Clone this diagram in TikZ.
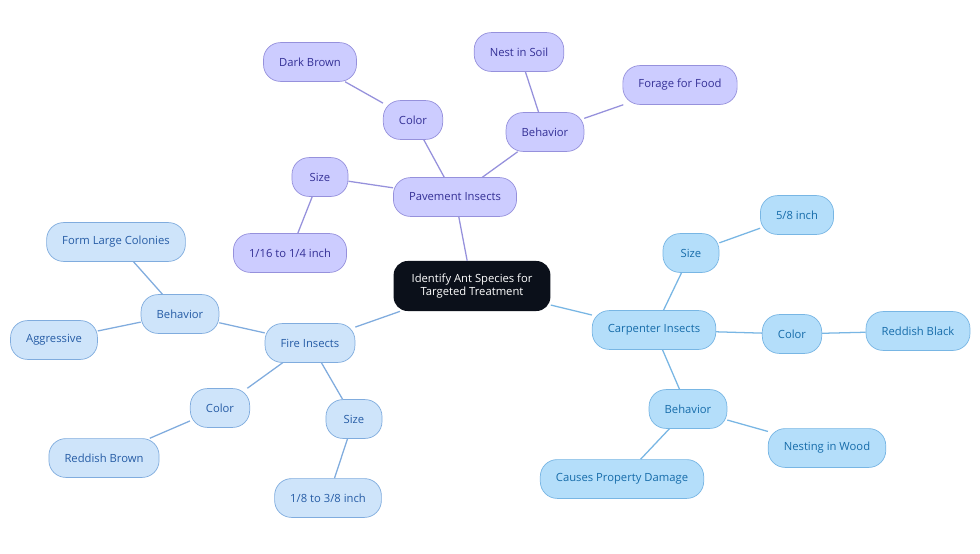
\documentclass[tikz,border=0pt]{standalone}
\usepackage{fontspec}
\setmainfont{Open Sans}
\usetikzlibrary{positioning}
\definecolor{rootfill}{RGB}{11,16,26}
\definecolor{pavfill}{RGB}{204,204,255}
\definecolor{pavline}{RGB}{150,145,220}
\definecolor{pavtext}{RGB}{52,48,150}
\definecolor{carpfill}{RGB}{180,222,250}
\definecolor{carpline}{RGB}{120,182,228}
\definecolor{carptext}{RGB}{22,108,170}
\definecolor{firefill}{RGB}{206,228,250}
\definecolor{fireline}{RGB}{128,172,222}
\definecolor{firetext}{RGB}{38,92,165}

\begin{document}
\begin{tikzpicture}[
  x=0.025cm, y=-0.025cm,
  every node/.style={font=\fontsize{8}{9.5}\selectfont, align=center},
  leaf/.style={rounded corners=12pt, minimum height=0.97cm, minimum width=1.4cm, inner xsep=0.39cm, line width=0.5pt},
  root/.style={leaf, fill=rootfill, text=white, rounded corners=10pt, minimum height=1.25cm, inner xsep=0.45cm},
  pav/.style={leaf, draw=pavline, fill=pavfill, text=pavtext},
  carp/.style={leaf, draw=carpline, fill=carpfill, text=carptext},
  fire/.style={leaf, draw=fireline, fill=firefill, text=firetext},
  pavlink/.style={draw=pavline, line width=0.9pt},
  carplink/.style={draw=carpline, line width=0.9pt},
  firelink/.style={draw=fireline, line width=0.9pt}
]
\useasboundingbox[fill=white] (0,0) rectangle (980,553);

\node[root] (ants) at (472,286) {Identify Ant Species for\\Targeted Treatment};

% pavement branch
\node[pav] (pav) at (455,197) {Pavement Insects};
\node[pav] (pavcolor) at (413,120) {Color};
\node[pav] (pavbrown) at (310,62) {Dark Brown};
\node[pav] (pavbeh) at (545,132) {Behavior};
\node[pav] (pavsoil) at (519,52) {Nest in Soil};
\node[pav] (pavfood) at (680,85) {Forage for Food};
\node[pav] (pavsize) at (320,177) {Size};
\node[pav] (pavinch) at (290,253) {1/16 to 1/4 inch};

% carpenter branch
\node[carp] (carp) at (654,330) {Carpenter Insects};
\node[carp] (carpsize) at (691,253) {Size};
\node[carp] (carpinch) at (797,215) {5/8 inch};
\node[carp] (carpcolor) at (792,334) {Color};
\node[carp] (carpblack) at (918,331) {Reddish Black};
\node[carp] (carpbeh) at (688,409) {Behavior};
\node[carp] (carpwood) at (827,448) {Nesting in Wood};
\node[carp] (carpdamage) at (622,479) {Causes Property Damage};

% fire branch
\node[fire] (fire) at (310,343) {Fire Insects};
\node[fire] (firebeh) at (180,314) {Behavior};
\node[fire] (firecol) at (116,242) {Form Large Colonies};
\node[fire] (fireagg) at (54,340) {Aggressive};
\node[fire] (firecolor) at (220,408) {Color};
\node[fire] (firebrown) at (104,458) {Reddish Brown};
\node[fire] (firesize) at (354,419) {Size};
\node[fire] (fireinch) at (328,498) {1/8 to 3/8 inch};

\draw[pavlink] (ants) -- (pav);
\draw[pavlink] (pav) -- (pavcolor);
\draw[pavlink] (pavcolor) -- (pavbrown);
\draw[pavlink] (pav) -- (pavbeh);
\draw[pavlink] (pavbeh) -- (pavsoil);
\draw[pavlink] (pavbeh) -- (pavfood);
\draw[pavlink] (pav) -- (pavsize);
\draw[pavlink] (pavsize) -- (pavinch);

\draw[carplink] (ants) -- (carp);
\draw[carplink] (carp) -- (carpsize);
\draw[carplink] (carpsize) -- (carpinch);
\draw[carplink] (carp) -- (carpcolor);
\draw[carplink] (carpcolor) -- (carpblack);
\draw[carplink] (carp) -- (carpbeh);
\draw[carplink] (carpbeh) -- (carpwood);
\draw[carplink] (carpbeh) -- (carpdamage);

\draw[firelink] (ants) -- (fire);
\draw[firelink] (fire) -- (firebeh);
\draw[firelink] (firebeh) -- (firecol);
\draw[firelink] (firebeh) -- (fireagg);
\draw[firelink] (fire) -- (firecolor);
\draw[firelink] (firecolor) -- (firebrown);
\draw[firelink] (fire) -- (firesize);
\draw[firelink] (firesize) -- (fireinch);
\end{tikzpicture}
\end{document}
